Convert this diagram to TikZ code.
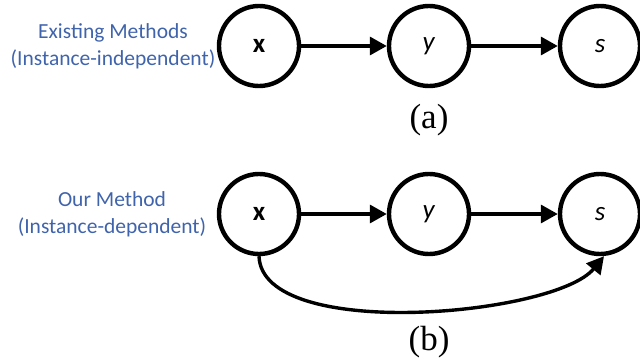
\documentclass[tikz,border=0pt]{standalone}
\usepackage{fontspec}
\setmainfont{Carlito}
\newfontfamily\serifnum{Liberation Serif}
\usetikzlibrary{arrows.meta}
\definecolor{lblblue}{RGB}{64,100,172}
\begin{document}
\begin{tikzpicture}[x=1pt,y=1pt,
  var/.style={circle,draw=black,line width=4.4pt,minimum size=80pt,inner sep=0pt,font=\fontsize{27}{30}\selectfont},
  arr/.style={line width=3.4pt,-{Triangle[length=17pt,width=18pt]}},
  lbl/.style={align=center,text=lblblue,font=\fontsize{21.5}{27}\selectfont},
  subcap/.style={font=\serifnum\fontsize{35}{38}\selectfont}]
\useasboundingbox (0,0) rectangle (640,-364);
% (a)
\node[var] (xa) at (259,-46) {\textbf{x}};
\node[var] (ya) at (429,-46) {\textit{y}};
\node[var] (sa) at (600,-46) {\textit{s}};
\draw[arr] (xa) -- (ya);
\draw[arr] (ya) -- (sa);
\node[lbl] (la) at (113,-46) {Existing Methods\\(Instance-independent)};
\node[subcap] (ca) at (429,-120) {(a)};
% (b)
\node[var] (xb) at (259,-214) {\textbf{x}};
\node[var] (yb) at (429,-214) {\textit{y}};
\node[var] (sb) at (600,-214) {\textit{s}};
\draw[arr] (xb) -- (yb);
\draw[arr] (yb) -- (sb);
\draw[arr] (xb.south) .. controls (262,-342) and (555,-316) .. ([xshift=4pt]sb.south);
\node[lbl] (lb) at (112,-214) {Our Method\\(Instance-dependent)};
\node[subcap] (cb) at (429,-342) {(b)};
\end{tikzpicture}
\end{document}
